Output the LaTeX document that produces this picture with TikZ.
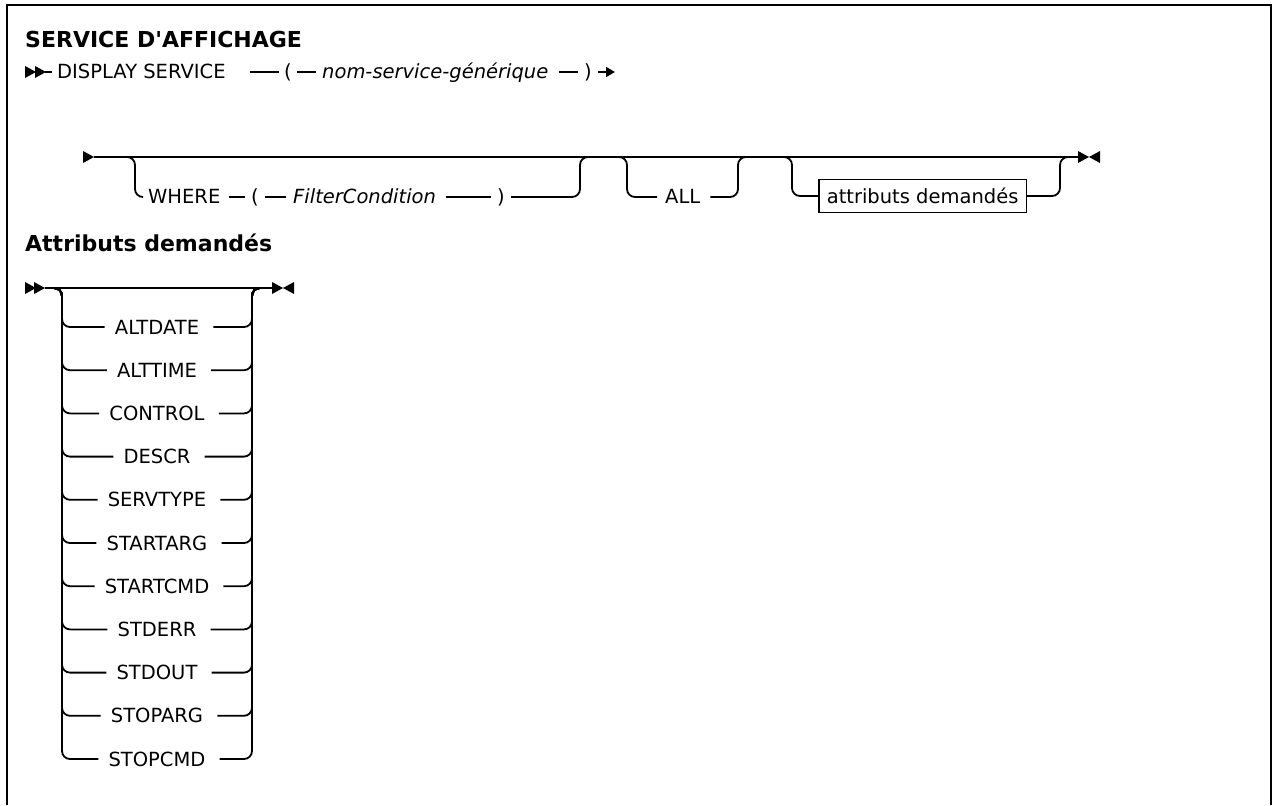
\documentclass[tikz,border=0pt]{standalone}
\usepackage{fontspec}
\setmainfont{DejaVu Sans}
\usetikzlibrary{arrows.meta,positioning}
\tikzset{
  rail/.style={line width=1.8pt,rounded corners=8pt},
  kw/.style={font=\fontsize{19.5}{22}\selectfont,inner sep=0pt,text height=14pt,text depth=0pt,anchor=west},
  var/.style={kw,font=\fontsize{19.5}{22}\selectfont\itshape},
  heading/.style={font=\fontsize{22}{26}\selectfont\bfseries,inner sep=0pt,anchor=base west},
  refbox/.style={draw,line width=1.6pt,font=\fontsize{19.5}{22}\selectfont,text height=14pt,text depth=0pt,
    minimum height=33pt,inner xsep=8pt,anchor=west},
  pics/tip/.style={code={\fill (0,-6) -- (11,0) -- (0,6) -- cycle;}},
  pics/stop/.style={code={\fill (0,-6) -- (11,0) -- (0,6) -- cycle;
    \fill (22,-6) -- (11,0) -- (22,6) -- cycle;}}
}
\begin{document}
\begin{tikzpicture}[x=1pt,y=-1pt,>=Stealth]
  \useasboundingbox (0,0) rectangle (1273,805);
  \draw[line width=2.5pt] (7,805) -- (7,5) -- (1271,5) -- (1271,805);

  % syntax line
  \node[heading] (title) at (25,48) {SERVICE D\textquotesingle AFFICHAGE};
  \pic at (25,72) {tip};
  \pic at (35,72) {tip};
  \coordinate (s1) at (45,72);
  \coordinate (e1) at (615,72);
  \node[kw] (dsp) at (57,72) {DISPLAY SERVICE};
  \node[kw] (lp1) at (284,72) {(};
  \node[var] (nsg) at (322,72) {nom-service-générique};
  \node[kw] (rp1) at (584,72) {)};
  \draw[rail] (s1) -- ([xshift=-5pt]dsp.west);
  \draw[rail] ([xshift=24pt]dsp.east) -- ([xshift=-5pt]lp1.west);
  \draw[rail] ([xshift=5pt]lp1.east) -- ([xshift=-6pt]nsg.west);
  \draw[rail] ([xshift=10pt]nsg.east) -- ([xshift=-6pt]rp1.west);
  \draw[rail,-{Triangle[length=9pt,width=10pt]}] ([xshift=6pt]rp1.east) -- (e1);

  % optional parts
  \pic at (83,157) {tip};
  \coordinate (s2) at (94,157);
  \coordinate (e2) at (1078,157);
  \pic at (e2) {stop};
  \draw[rail] (s2) -- (e2);
  \coordinate (b1) at (125,157);
  \coordinate (j1) at (590,157);
  \node[kw] (where) at (148,197) {WHERE};
  \node[kw] (lp2) at (251,197) {(};
  \node[var] (fc) at (293,197) {FilterCondition};
  \node[kw] (rp2) at (497,197) {)};
  \draw[rail] (b1) -- ++(10,0) |- ([xshift=-6pt]where.west);
  \draw[rail] ([xshift=8pt]where.east) -- ([xshift=-6pt]lp2.west);
  \draw[rail] ([xshift=6pt]lp2.east) -- ([xshift=-7pt]fc.west);
  \draw[rail] ([xshift=10pt]fc.east) -- ([xshift=-6pt]rp2.west);
  \draw[rail] ([xshift=6pt]rp2.east) -| ([xshift=-10pt]j1) -- (j1);
  \coordinate (b2) at (617,157);
  \coordinate (j2) at (748,157);
  \node[kw] (all) at (665,197) {ALL};
  \draw[rail] (b2) -- ++(10,0) |- ([xshift=-8pt]all.west);
  \draw[rail] ([xshift=10pt]all.east) -| ([xshift=-10pt]j2) -- (j2);
  \coordinate (b3) at (782,157);
  \coordinate (j3) at (1070,157);
  \node[refbox] (attr) at (818,196) {attributs demandés};
  \draw[rail] (b3) -- ++(10,0) |- (attr.west);
  \draw[rail] (attr.east) -| ([xshift=-10pt]j3) -- (j3);

  % fragment
  \node[heading] (title2) at (25,251) {Attributs demandés};
  \pic at (25,288) {tip};
  \pic at (34,288) {tip};
  \coordinate (s3) at (45,288);
  \coordinate (e3) at (272,288);
  \pic at (e3) {stop};
  \draw[rail] (s3) -- (e3);
  \coordinate (l3) at (52,288);
  \coordinate (r3) at (262,288);
  \foreach \attrname [count=\i] in {ALTDATE,ALTTIME,CONTROL,DESCR,SERVTYPE,STARTARG,
      STARTCMD,STDERR,STDOUT,STOPARG,STOPCMD} {
    \node[kw,anchor=center] (it\i) at (157,{283.8+43.2*\i}) {\attrname};
    \draw[rail] (l3) -- ++(10,0) |- ([xshift=-10pt]it\i.west);
    \draw[rail] ([xshift=14pt]it\i.east) -| ([xshift=-10pt]r3) -- (r3);
  }
\end{tikzpicture}
\end{document}
